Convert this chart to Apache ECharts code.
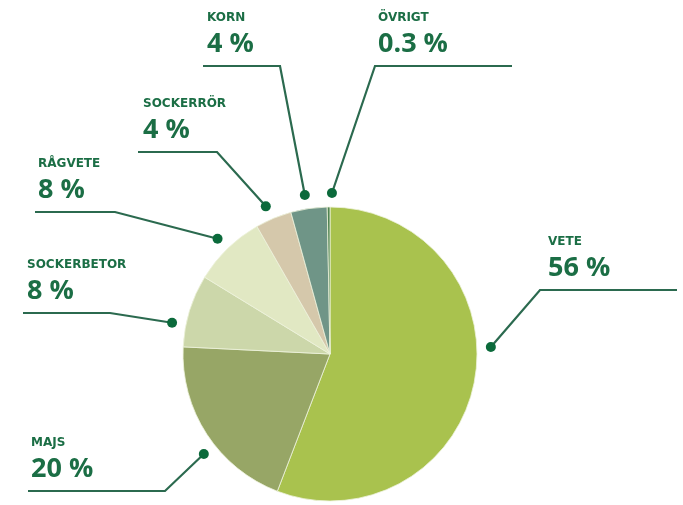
<!DOCTYPE html>
<html><head><meta charset="utf-8">
<script src="https://cdn.jsdelivr.net/npm/echarts@6/dist/echarts.min.js"></script>
<style>html,body{margin:0;padding:0;background:#fff}#c{width:683px;height:505px}</style>
</head><body><div id="c"></div>
<script>
// ---- data ----
const categories = ['VETE', 'MAJS', 'SOCKERBETOR', 'RÅGVETE', 'SOCKERRÖR', 'KORN', 'ÖVRIGT'];
const shares = [56, 20, 8, 8, 4, 4, 0.3];
const shareLabels = ['56 %', '20 %', '8 %', '8 %', '4 %', '4 %', '0.3 %'];

// ---- styles / layout ----
const sliceColors = ['#a9c24e', '#97a666', '#ccd7aa', '#e1e8c3', '#d5c8ab', '#6f9587', '#4f8350'];
const textColor = '#1b6e45';
const ruleColor = '#2b6a4f';
const dotColor = '#0b6a3b';
const pieCenter = [330, 354];
const pieRadius = 147;
const dotRadius = 161;
// callout layout: text x, rule y, rule outer x, elbow x, dot angle (deg, clockwise from top)
const callouts = [
  { tx: 548, ly: 290, ox: 677, ex: 540, ang: 87.5 },
  { tx: 31,  ly: 491, ox: 28,  ex: 165, ang: 231.6 },
  { tx: 27,  ly: 313, ox: 23,  ex: 110, ang: 281.2 },
  { tx: 38,  ly: 212, ox: 35,  ex: 115, ang: 315.7 },
  { tx: 143, ly: 152, ox: 138, ex: 217, ang: 336.5 },
  { tx: 207, ly: 66,  ox: 203, ex: 280, ang: 351 },
  { tx: 378, ly: 66,  ox: 512, ex: 375, ang: 0.7 }
];
function dotPos(c) {
  const a = c.ang * Math.PI / 180;
  return [pieCenter[0] + dotRadius * Math.sin(a), pieCenter[1] - dotRadius * Math.cos(a)];
}

const chart = echarts.init(document.getElementById('c'), null, { renderer: 'canvas' });
const valueFont = '"Open Sans", "Noto Sans", sans-serif';
const nameFont = '"DejaVu Sans", "Open Sans", sans-serif';
chart.setOption({
  animation: false,
  backgroundColor: '#ffffff',
  graphic: callouts.map(c => {
    const p = dotPos(c);
    return { type: 'circle', z: 100, shape: { cx: p[0], cy: p[1], r: 5 }, style: { fill: dotColor } };
  }),
  series: [{
    type: 'pie',
    center: pieCenter,
    radius: pieRadius,
    startAngle: 90,
    clockwise: true,
    avoidLabelOverlap: false,
    data: categories.map((n, i) => ({ name: n, value: shares[i], itemStyle: { color: sliceColors[i] } })),
    itemStyle: { borderColor: '#eef2dc', borderWidth: 0.8 },
    label: {
      show: true,
      position: 'outside',
      formatter: p => '{n|' + p.name + '}\n{v|' + shareLabels[p.dataIndex] + '}',
      rich: {
        n: { fontFamily: nameFont, fontSize: 12, fontWeight: 'bold', color: textColor, lineHeight: 24 },
        v: { fontFamily: valueFont, fontSize: 27, fontWeight: 'bold', color: textColor, lineHeight: 28 }
      }
    },
    labelLine: { show: true, smooth: false, lineStyle: { color: ruleColor, width: 2.2 } },
    labelLayout: p => {
      const c = callouts[p.dataIndex];
      return {
        x: c.tx, y: c.ly - 8, align: 'left', verticalAlign: 'bottom',
        labelLinePoints: [dotPos(c), [c.ex, c.ly], [c.ox, c.ly]]
      };
    },
    emphasis: { disabled: true }
  }]
});
</script></body></html>
